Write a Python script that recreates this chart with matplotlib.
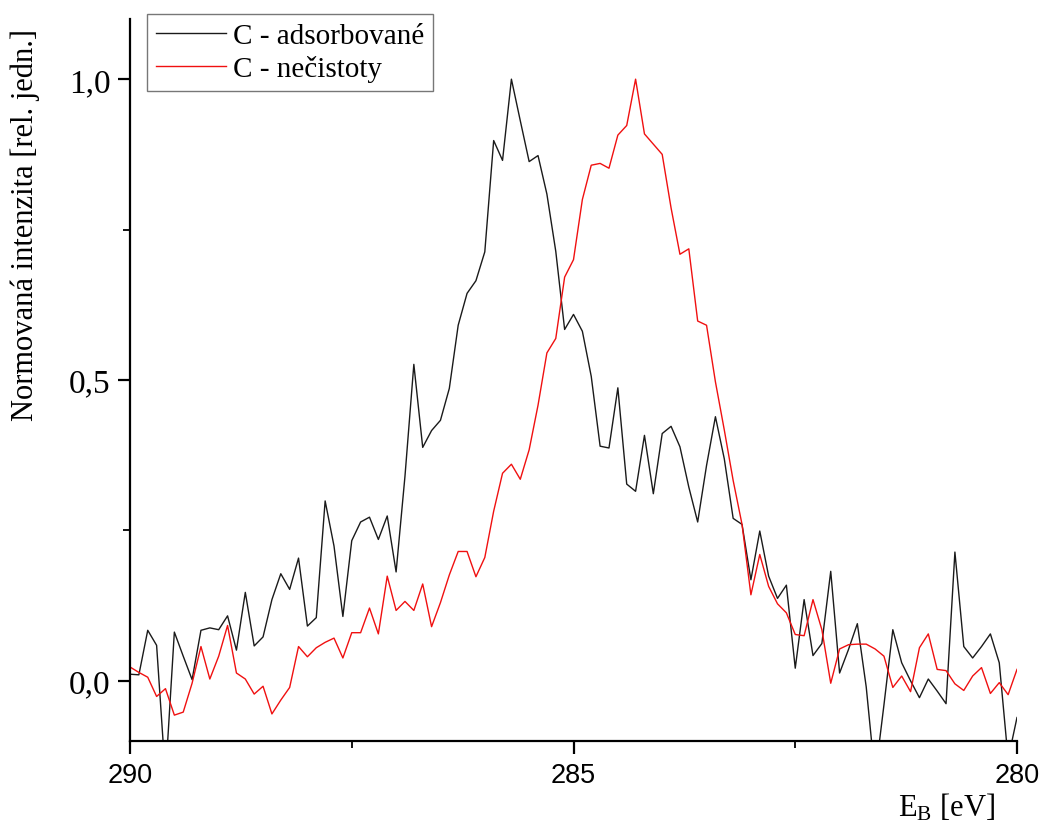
import numpy as np
import matplotlib
matplotlib.use("Agg")
import matplotlib.pyplot as plt
from matplotlib.ticker import FixedLocator, FuncFormatter

# Binding energy grid (eV), 290 -> 280 in 0.1 eV steps
energy = np.linspace(290.0, 280.0, 101)

adsorbovane = [
    0.011, 0.010, 0.084, 0.059, -0.160, 0.081, 0.041, 0.002, 0.084, 0.088,
    0.085, 0.108, 0.051, 0.147, 0.058, 0.073, 0.135, 0.178, 0.152, 0.204,
    0.091, 0.105, 0.299, 0.224, 0.107, 0.233, 0.264, 0.272, 0.235, 0.274,
    0.181, 0.340, 0.526, 0.388, 0.416, 0.433, 0.486, 0.591, 0.644, 0.665,
    0.713, 0.898, 0.865, 1.000, 0.931, 0.863, 0.873, 0.809, 0.714, 0.584,
    0.609, 0.581, 0.506, 0.390, 0.387, 0.487, 0.327, 0.315, 0.408, 0.311,
    0.411, 0.423, 0.389, 0.322, 0.264, 0.358, 0.439, 0.369, 0.270, 0.260,
    0.168, 0.249, 0.174, 0.137, 0.159, 0.021, 0.135, 0.042, 0.062, 0.182,
    0.013, 0.052, 0.095, -0.010, -0.160, -0.040, 0.085, 0.030, 0.000, -0.028,
    0.003, -0.017, -0.038, 0.214, 0.057, 0.038, 0.057, 0.078, 0.030, -0.130,
    -0.061,
]

necistoty = [
    0.023, 0.014, 0.006, -0.026, -0.013, -0.057, -0.052, -0.004, 0.057, 0.003,
    0.041, 0.092, 0.013, 0.003, -0.022, -0.009, -0.055, -0.032, -0.011, 0.057,
    0.040, 0.055, 0.064, 0.071, 0.038, 0.080, 0.080, 0.121, 0.078, 0.174,
    0.117, 0.132, 0.117, 0.161, 0.090, 0.130, 0.176, 0.215, 0.215, 0.173,
    0.205, 0.282, 0.345, 0.360, 0.335, 0.384, 0.458, 0.545, 0.569, 0.671,
    0.700, 0.800, 0.857, 0.860, 0.852, 0.907, 0.923, 1.000, 0.909, 0.892,
    0.875, 0.786, 0.709, 0.718, 0.598, 0.591, 0.497, 0.417, 0.333, 0.260,
    0.143, 0.210, 0.157, 0.128, 0.113, 0.077, 0.075, 0.135, 0.085, -0.004,
    0.053, 0.060, 0.061, 0.061, 0.053, 0.041, -0.011, 0.008, -0.018, 0.055,
    0.078, 0.019, 0.017, -0.005, -0.016, 0.008, 0.022, -0.021, -0.003, -0.023,
    0.019,
]

series_labels = ["C - adsorbované", "C - nečistoty"]
x_major = [290, 285, 280]
x_minor = [287.5, 282.5]
y_major = [0.0, 0.5, 1.0]
y_minor = [0.25, 0.75]
y_label = "Normovaná intenzita [rel. jedn.]"
x_label = r"E$_\mathregular{B}$ [eV]"

SERIF = "Liberation Serif"
SANS = "Liberation Sans"
plt.rcParams["font.family"] = [SERIF, "DejaVu Serif"]
plt.rcParams["mathtext.fontset"] = "custom"
plt.rcParams["mathtext.rm"] = SERIF
plt.rcParams["mathtext.it"] = SERIF + ":italic"

fig = plt.figure(figsize=(10.4, 8.29), dpi=100)
ax = fig.add_axes([130 / 1040, 1 - 742 / 829, (1017 - 130) / 1040, (742 - 20) / 829])

ax.plot(energy, adsorbovane, color="#1a1a1a", lw=1.0, label=series_labels[0])
ax.plot(energy, necistoty, color="#f01010", lw=1.0, label=series_labels[1])

ax.set_xlim(290, 280)
ax.set_ylim(-0.1, 1.1)

for s in ["top", "right"]:
    ax.spines[s].set_visible(False)
for s in ["left", "bottom"]:
    ax.spines[s].set_linewidth(1.6)
    ax.spines[s].set_color("black")

ax.xaxis.set_major_locator(FixedLocator(x_major))
ax.xaxis.set_minor_locator(FixedLocator(x_minor))
ax.yaxis.set_major_locator(FixedLocator(y_major))
ax.yaxis.set_minor_locator(FixedLocator(y_minor))
ax.yaxis.set_major_formatter(FuncFormatter(lambda v, p: f"{v:.1f}".replace(".", ",")))
ax.xaxis.set_major_formatter(FuncFormatter(lambda v, p: f"{v:.0f}"))

ax.tick_params(axis="both", which="major", direction="out", length=9, width=1.6)
ax.tick_params(axis="both", which="minor", direction="out", length=5, width=1.3)
ax.tick_params(axis="y", which="major", labelsize=24, pad=5)
ax.tick_params(axis="x", which="major", labelsize=19.5, pad=6)
for lab in ax.get_xticklabels():
    lab.set_fontfamily(SANS)

fig.text(25 / 1040, 1 - 225 / 829, y_label, rotation=90, ha="center", va="center",
         fontsize=22, family=SERIF)
fig.text(995 / 1040, 1 - 817 / 829, x_label, ha="right", va="baseline",
         fontsize=22, family=SERIF)

leg = ax.legend(loc="upper left", bbox_to_anchor=(147 / 1040, 1 - 15 / 829),
                bbox_transform=fig.transFigure, fontsize=21, frameon=True,
                fancybox=False, handlelength=2.4, handletextpad=0.25,
                labelspacing=0.2, borderpad=0.3, borderaxespad=0.0)
leg.get_frame().set_edgecolor("#555555")
leg.get_frame().set_linewidth(1.0)
for h in leg.get_lines():
    h.set_linewidth(1.0)

fig.savefig("out.png", dpi=100)
